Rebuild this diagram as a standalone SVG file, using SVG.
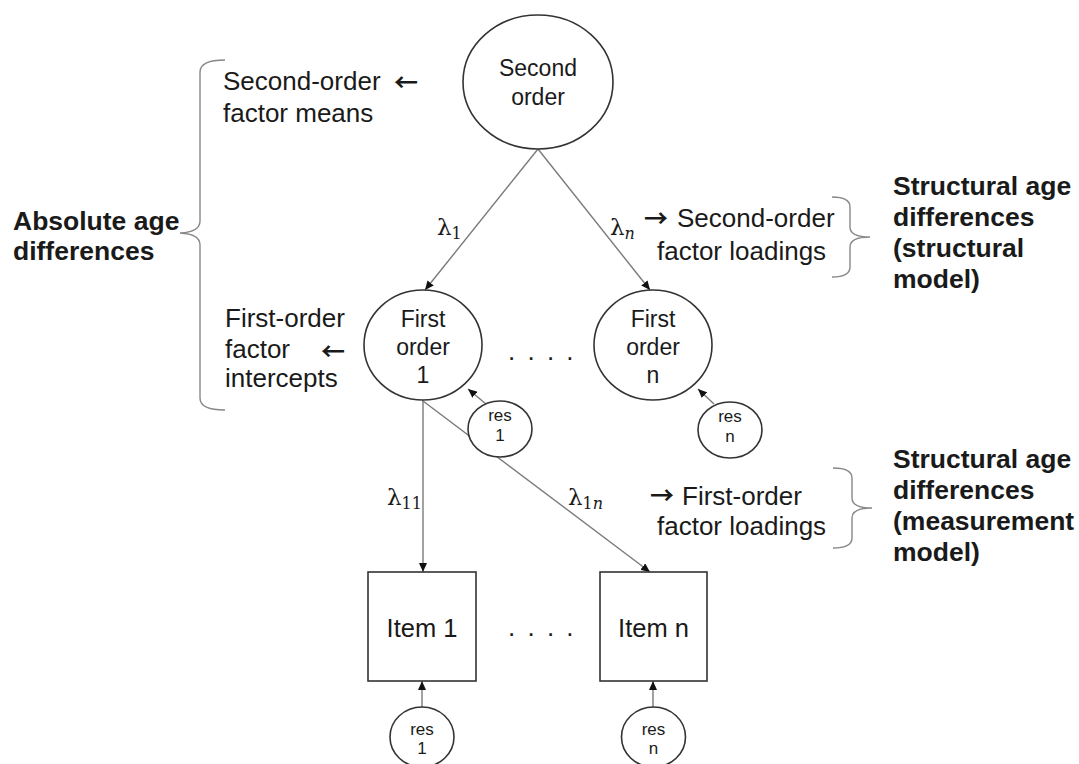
<svg xmlns="http://www.w3.org/2000/svg" width="1079" height="764" viewBox="0 0 1079 764">
<defs>
<marker id="ah" markerWidth="10" markerHeight="8" refX="9" refY="4" orient="auto" markerUnits="userSpaceOnUse">
<path d="M0,0 L9,4 L0,8 Z" fill="#111"/>
</marker>
<style>
.node{fill:#fff;stroke:#333;stroke-width:1.6}
.edge{stroke:#7a7a7a;stroke-width:1.4;fill:none}
.br{stroke:#888;stroke-width:1.4;fill:none}
.t{font-family:"Liberation Sans",Arial,sans-serif;fill:#1a1a1a}
.big{font-size:26px}
.bold{font-size:26.5px;font-weight:bold}
.nt{font-size:23px;text-anchor:middle}
.it{font-size:25.5px;text-anchor:middle}
.rt{font-size:17px;text-anchor:middle}
.arr{font-family:"Noto Sans CJK SC","DejaVu Sans",sans-serif;font-size:24px;font-weight:bold;fill:#1a1a1a}
.lam{font-family:"DejaVu Serif","Liberation Serif",serif;font-size:23px;fill:#1a1a1a}
.sub{font-size:16px}
</style>
</defs>
<rect width="1079" height="764" fill="#fff"/>

<g id="connectors">
<line class="edge" x1="538" y1="149" x2="425" y2="290" marker-end="url(#ah)"/>
<line class="edge" x1="538" y1="149" x2="650" y2="290" marker-end="url(#ah)"/>
<line class="edge" x1="486" y1="404" x2="468" y2="389" marker-end="url(#ah)"/>
<line class="edge" x1="714" y1="404" x2="698" y2="389" marker-end="url(#ah)"/>
<line class="edge" x1="423" y1="400" x2="423" y2="572" marker-end="url(#ah)"/>
<line class="edge" x1="423" y1="401" x2="650" y2="572" marker-end="url(#ah)"/>
<line class="edge" x1="422" y1="707" x2="422" y2="681" marker-end="url(#ah)"/>
<line class="edge" x1="653" y1="707" x2="653" y2="681" marker-end="url(#ah)"/>
</g>

<g id="second-order">
<ellipse class="node" cx="538" cy="82" rx="75" ry="67"/>
<text class="t nt" x="538" y="76">Second</text>
<text class="t nt" x="538" y="105">order</text>
</g>

<g id="first-order-1">
<ellipse class="node" cx="423" cy="345" rx="59" ry="55"/>
<text class="t nt" x="423" y="327">First</text>
<text class="t nt" x="423" y="355">order</text>
<text class="t nt" x="423" y="383">1</text>
</g>

<g id="first-order-n">
<ellipse class="node" cx="653" cy="345" rx="59" ry="55"/>
<text class="t nt" x="653" y="327">First</text>
<text class="t nt" x="653" y="355">order</text>
<text class="t nt" x="653" y="383">n</text>
</g>

<g id="res-f1">
<ellipse class="node" cx="500" cy="429" rx="32" ry="28"/>
<text class="t rt" x="500" y="421">res</text>
<text class="t rt" x="500" y="441">1</text>
</g>

<g id="res-fn">
<ellipse class="node" cx="730" cy="430" rx="32" ry="28"/>
<text class="t rt" x="730" y="422">res</text>
<text class="t rt" x="730" y="442">n</text>
</g>

<g id="item-1">
<rect class="node" x="368" y="572" width="108" height="109"/>
<text class="t it" x="422" y="637">Item 1</text>
</g>

<g id="item-n">
<rect class="node" x="600" y="572" width="107" height="109"/>
<text class="t it" x="653.5" y="637">Item n</text>
</g>

<g id="res-i1">
<ellipse class="node" cx="422" cy="737" rx="32" ry="30"/>
<text class="t rt" x="422" y="735">res</text>
<text class="t rt" x="422" y="754">1</text>
</g>

<g id="res-in">
<ellipse class="node" cx="653.5" cy="737" rx="32" ry="30"/>
<text class="t rt" x="653.5" y="735">res</text>
<text class="t rt" x="653.5" y="754">n</text>
</g>

<g id="dots">
<text class="t big" x="508" y="360" letter-spacing="2.5">. . . .</text>
<text class="t big" x="508" y="636" letter-spacing="2.5">. . . .</text>
</g>

<g id="lambdas">
<text class="lam" x="437" y="235">λ<tspan class="sub" dy="4">1</tspan></text>
<text class="lam" x="610" y="235">λ<tspan class="sub" dy="4" font-style="italic">n</tspan></text>
<text class="lam" x="387" y="505">λ<tspan class="sub" dy="4">11</tspan></text>
<text class="lam" x="568" y="505">λ<tspan class="sub" dy="4">1</tspan><tspan class="sub" font-style="italic">n</tspan></text>
</g>

<g id="labels">
<text class="t big" x="223" y="90">Second-order</text>
<text class="arr" x="394" y="91">←</text>
<text class="t big" x="223" y="122">factor means</text>
<text class="t big" x="225" y="327">First-order</text>
<text class="t big" x="225" y="358">factor</text>
<text class="arr" x="321" y="360">←</text>
<text class="t big" x="225" y="387">intercepts</text>
<text class="arr" x="644" y="227">→</text>
<text class="t big" x="677" y="227">Second-order</text>
<text class="t big" x="657" y="260">factor loadings</text>
<text class="arr" x="650" y="504">→</text>
<text class="t big" x="682" y="505">First-order</text>
<text class="t big" x="657" y="535">factor loadings</text>
<text class="t bold" x="13" y="230">Absolute age</text>
<text class="t bold" x="13" y="260">differences</text>
<text class="t bold" x="893" y="195">Structural age</text>
<text class="t bold" x="893" y="226">differences</text>
<text class="t bold" x="893" y="257">(structural</text>
<text class="t bold" x="893" y="288">model)</text>
<text class="t bold" x="893" y="468">Structural age</text>
<text class="t bold" x="893" y="499">differences</text>
<text class="t bold" x="893" y="530">(measurement</text>
<text class="t bold" x="893" y="561">model)</text>
</g>

<g id="brackets">
<path class="br" d="M225,60 Q200,60 200,72 L200,221 Q200,232 180,233 Q200,234 200,245 L200,398 Q200,410 225,410"/>
<path class="br" d="M832,197 Q850,197 850,207 L850,227 Q850,237 870,237 Q850,237 850,247 L850,267 Q850,277 832,277"/>
<path class="br" d="M833,468 Q852,468 852,478 L852,498 Q852,508 872,508 Q852,508 852,518 L852,538 Q852,548 833,548"/>
</g>
</svg>
